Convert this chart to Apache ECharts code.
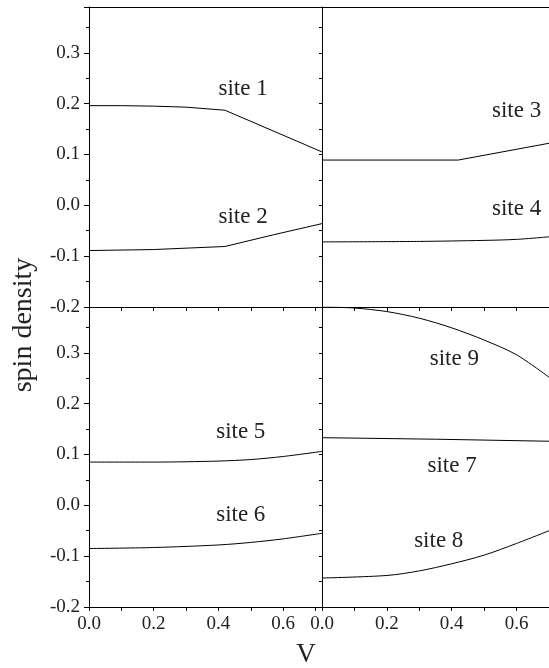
<!DOCTYPE html>
<html>
<head>
<meta charset="utf-8">
<script src="https://cdn.jsdelivr.net/npm/echarts@6/dist/echarts.min.js"></script>
<style>
  html, body { margin: 0; padding: 0; background: #fff; }
  #chart { width: 549px; height: 668px; }
</style>
</head>
<body>
<div id="chart"></div>
<script>
// spin density vs V, [V, value] pairs
var site1 = [[0, 0.196], [0.1, 0.196], [0.2, 0.195], [0.3, 0.193], [0.42, 0.187], [0.72, 0.105]];
var site2 = [[0, -0.089], [0.2, -0.087], [0.42, -0.081], [0.57, -0.058], [0.72, -0.036]];
var site3 = [[0, 0.089], [0.42, 0.089], [0.7, 0.122]];
var site4 = [[0, -0.072], [0.3, -0.071], [0.5, -0.069], [0.6, -0.067], [0.7, -0.062]];
var site5 = [[0, 0.085], [0.2, 0.085], [0.4, 0.087], [0.5, 0.090], [0.6, 0.096], [0.72, 0.106]];
var site6 = [[0, -0.085], [0.2, -0.083], [0.4, -0.078], [0.5, -0.073], [0.6, -0.066], [0.72, -0.055]];
var site7 = [[0, 0.133], [0.35, 0.130], [0.7, 0.126]];
var site8 = [[0, -0.143], [0.2, -0.138], [0.3, -0.129], [0.4, -0.115], [0.5, -0.098], [0.6, -0.075], [0.7, -0.050]];
var site9 = [[0, 0.390], [0.1, 0.388], [0.2, 0.381], [0.3, 0.368], [0.4, 0.349], [0.5, 0.325], [0.6, 0.296], [0.7, 0.252]];

// label anchor per site (data coords)
var siteNames = ['site 1', 'site 2', 'site 3', 'site 4', 'site 5', 'site 6', 'site 7', 'site 8', 'site 9'];
var labelAt = [[0.476, 0.228], [0.476, -0.022], [0.6, 0.185], [0.6, -0.007], [0.469, 0.145], [0.469, -0.019], [0.401, 0.078], [0.36, -0.07], [0.408, 0.288]];

var FONT = 'Liberation Serif';
var TXT = '#222';

var myChart = echarts.init(document.getElementById('chart'));

function xAx(grid, max, labels) {
    return {
        type: 'value', gridIndex: grid, min: 0, max: max, interval: 0.1,
        position: 'bottom',
        axisLine: { onZero: false, lineStyle: { color: '#000', width: 1 } },
        axisTick: { show: true, inside: false, length: 4, lineStyle: { color: '#000' } },
        axisLabel: {
            show: labels, margin: 8, color: TXT, fontFamily: FONT, fontSize: 19,
            showMaxLabel: false,
            formatter: function (v) {
                return Math.round(v * 10) % 2 === 0 ? v.toFixed(1) : '';
            }
        },
        splitLine: { show: false }
    };
}

// plain frame line along the top of the upper panels
function topAx(grid, max) {
    return {
        type: 'value', gridIndex: grid, min: 0, max: max, position: 'top',
        axisLine: { onZero: false, lineStyle: { color: '#000', width: 1 } },
        axisTick: { show: false }, axisLabel: { show: false }, splitLine: { show: false }
    };
}

function yAx(grid, labels) {
    return {
        type: 'value', gridIndex: grid, min: -0.2, max: 0.39, interval: 0.1,
        axisLine: { show: true, onZero: false, lineStyle: { color: '#000', width: 1 } },
        axisTick: { show: true, inside: false, length: labels ? 5 : 3, lineStyle: { color: '#000' } },
        minorTick: { show: true, splitNumber: 2, length: 3, lineStyle: { color: '#000' } },
        axisLabel: {
            show: labels, margin: 9, color: TXT, fontFamily: FONT, fontSize: 19,
            showMaxLabel: false,
            formatter: function (v) { return v.toFixed(1); }
        },
        splitLine: { show: false }
    };
}

var allSites = [site1, site2, site3, site4, site5, site6, site7, site8, site9];
var gridOf = [0, 0, 1, 1, 2, 2, 3, 3, 3];
var smoothOf = [false, false, false, 0.3, 0.3, 0.3, false, 0.3, 0.3];

var series = [];
for (var i = 0; i < allSites.length; i++) {
    series.push({
        name: siteNames[i],
        type: 'line',
        xAxisIndex: gridOf[i],
        yAxisIndex: gridOf[i],
        data: allSites[i],
        smooth: smoothOf[i],
        showSymbol: false,
        symbol: 'none',
        lineStyle: { color: '#000', width: 1 },
        markPoint: {
            symbol: 'circle', symbolSize: 0,
            label: { show: true, position: 'inside', formatter: siteNames[i], color: TXT, fontFamily: FONT, fontSize: 23 },
            data: [{ coord: labelAt[i] }]
        }
    });
}

var option = {
    animation: false,
    backgroundColor: '#fff',
    grid: [
        { left: 89, top: 7, width: 233, height: 300 },
        { left: 322, top: 7, width: 228, height: 300 },
        { left: 89, top: 307, width: 233, height: 300 },
        { left: 322, top: 307, width: 228, height: 300 }
    ],
    xAxis: [xAx(0, 0.72, false), xAx(1, 0.7, false), xAx(2, 0.72, true), xAx(3, 0.7, true),
            topAx(0, 0.72), topAx(1, 0.7)],
    yAxis: [yAx(0, true), yAx(1, false), yAx(2, true), yAx(3, false)],
    graphic: [
        {
            type: 'text', x: 24, y: 325, rotation: Math.PI / 2,
            style: { text: 'spin density', fill: TXT, font: '28px "Liberation Serif"', align: 'center', verticalAlign: 'middle' }
        },
        {
            type: 'text', x: 306, y: 655,
            style: { text: 'V', fill: TXT, font: '27px "Liberation Serif"', align: 'center', verticalAlign: 'middle' }
        }
    ],
    series: series
};
myChart.setOption(option);
</script>
</body>
</html>
